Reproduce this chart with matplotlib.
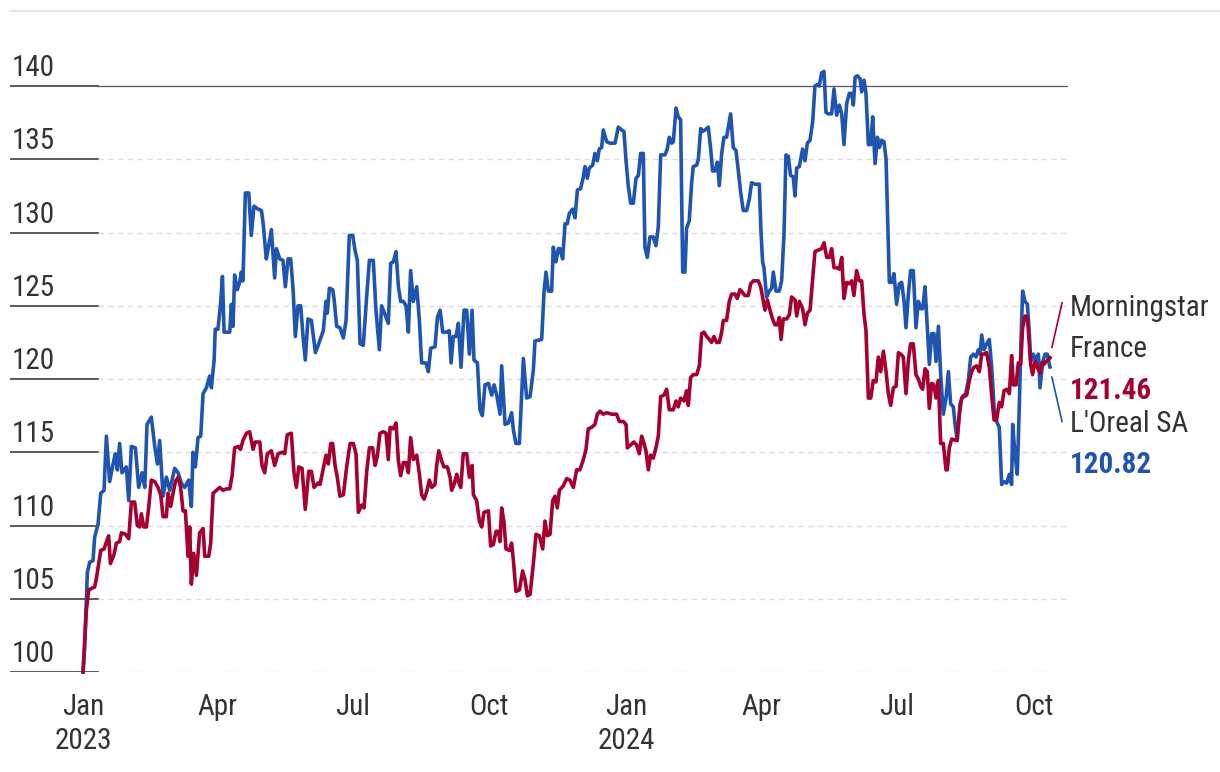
import pandas as pd
import matplotlib
matplotlib.use("Agg")
import matplotlib.pyplot as plt
import matplotlib.transforms as mtransforms
from matplotlib.lines import Line2D

plt.rcParams['font.family'] = ['Roboto Condensed', 'Roboto', 'DejaVu Sans']

# days counted from 1 Jan 2023
start = pd.Timestamp("2023-01-01")

oreal_days = [0, 1.1, 2.9, 4.5, 6.7, 7.8, 10.1, 11.9, 14.1, 15.7, 17.9, 20.2, 21.7, 23.1, 24.6, 26.2,
              29.1, 30.7, 32.5, 35.2, 37.4, 39.7, 41.5, 43.0, 45.9, 48.2, 50.0, 51.5, 53.8, 56.0, 58.3,
              61.6, 63.9, 66.1, 68.3, 71.0, 72.8, 73.9, 75.5, 77.3, 79.1, 80.7, 82.9, 85.1, 86.3, 88.1,
              88.9, 90.7, 92.5, 93.7, 94.8, 98.6, 99.7, 100.8, 101.9, 103.7, 105.3, 106.4, 107.5, 109.1,
              111.4, 113.1, 114.9, 117.6, 119.9, 121.0, 123.2, 124.8, 126.6, 128.8, 130.0, 132.2, 134.4,
              136.0, 137.8, 139.6, 141.2, 142.7, 144.5, 146.3, 147.9, 149.4, 151.2, 153.5, 156.2, 158.4,
              161.5, 163.3, 164.2, 165.6, 167.8, 168.7, 170.5, 172.7, 175.0, 176.8, 179.0, 181.3, 182.8,
              184.4, 186.2, 188.4, 190.7, 192.5, 195.1, 196.9, 199.2, 200.7, 203.0, 205.2, 206.8, 208.6,
              210.4, 212.0, 213.5, 215.3, 217.1, 218.7, 220.2, 222.0, 224.3, 226.1, 227.6, 230.5, 232.1,
              233.7, 236.6, 238.2, 240.0, 241.8, 244.4, 246.2, 247.4, 248.9, 250.7, 252.3, 254.1, 256.1,
              257.9, 259.7, 261.5, 262.8, 265.1, 266.8, 268.4, 270.2, 272.5, 274.7, 276.3, 278.1, 280.3,
              281.4, 283.7, 285.9, 288.1, 289.3, 291.0, 293.3, 296.0, 298.2, 300.5, 302.7, 303.8, 308.3,
              309.9, 311.2, 312.8, 315.0, 316.1, 317.9, 319.5, 320.6, 322.4, 324.0, 325.5, 326.9, 329.1,
              330.7, 332.3, 334.5, 336.3, 337.4, 339.0, 340.3, 342.6, 344.1, 345.7, 347.0, 348.6, 349.7,
              352.0, 354.2, 357.6, 359.8, 362.1, 363.6, 365.0, 366.5, 368.1, 369.9, 371.7, 373.3, 374.8,
              376.6, 377.7, 379.3, 381.1, 383.3, 385.1, 386.7, 388.3, 391.2, 392.7, 394.1, 395.7, 396.8,
              398.6, 400.1, 401.7, 403.1, 404.6, 405.7, 407.5, 409.1, 410.2, 412.5, 413.6, 415.2, 416.5,
              418.1, 420.3, 421.9, 423.2, 424.8, 426.4, 427.7, 429.3, 430.8, 432.6, 433.8, 435.3, 437.1,
              438.9, 440.5, 442.0, 443.8, 446.1, 447.9, 449.4, 451.7, 454.6, 455.7, 456.8, 457.7, 459.5,
              461.3, 462.9, 464.0, 465.8, 468.0, 469.6, 471.2, 472.5, 474.1, 475.6, 477.4, 478.6, 479.7,
              481.5, 483.7, 485.3, 486.9, 488.7, 490.5, 492.0, 493.6, 494.9, 496.5, 498.1, 499.4, 501.0,
              503.2, 504.8, 506.6, 508.4, 510.0, 511.5, 513.3, 515.1, 516.7, 517.8, 519.0, 520.5, 522.3,
              523.4, 525.0, 526.3, 527.9, 529.5, 530.8, 532.4, 534.0, 535.3, 536.8, 538.4, 539.8, 542.0,
              543.6, 545.1, 546.9, 548.7, 550.3, 551.9, 553.2, 554.8, 556.3, 558.1, 559.9, 561.5, 563.1,
              564.4, 566.0, 567.5, 568.9, 570.5, 572.0, 573.4, 575.0, 576.5, 578.3, 580.1, 581.7, 583.2,
              585.0, 586.4, 587.7, 589.5, 591.3, 592.9, 595.1, 596.7, 598.5, 600.3, 601.8, 602.9, 604.1,
              605.6, 607.4, 609.2, 610.8, 612.4, 614.1, 615.9, 617.5, 619.1, 620.9, 622.7, 624.2, 624.9,
              626.5, 628.0, 629.4, 630.5, 631.6, 633.2, 634.8, 636.1, 637.0, 638.8, 640.6, 642.2, 643.3,
              645.1, 646.7, 648.2, 649.1, 650.0]
oreal_vals = [100, 101.7, 106.8, 107.5, 107.6, 109.2, 110.1, 112.2, 112.4, 116.1, 113.0, 114.2, 114.9, 113.8,
              115.6, 113.6, 114.0, 111.7, 115.4, 115.3, 112.6, 113.6, 112.6, 116.9, 117.4, 115.4, 114.2,
              115.8, 112.0, 113.3, 112.4, 113.9, 113.6, 112.9, 112.6, 113.1, 111.3, 115.0, 114.0, 116.0,
              116.1, 119.0, 119.4, 120.2, 119.4, 121.3, 123.4, 123.4, 125.2, 127.0, 123.2, 123.2, 125.1,
              123.6, 127.1, 126.1, 126.6, 127.3, 126.7, 132.7, 132.7, 129.8, 131.8, 131.6, 131.5, 130.7,
              128.2, 129.1, 130.2, 126.9, 128.9, 128.2, 128.1, 126.3, 128.2, 128.2, 126.1, 122.9, 125.0,
              125.0, 122.9, 121.3, 124.1, 124.0, 121.8, 122.4, 123.3, 125.3, 124.5, 126.2, 126.1, 125.5,
              123.6, 123.5, 122.8, 124.0, 129.8, 129.8, 128.8, 128.1, 122.4, 122.3, 125.7, 128.1, 128.1,
              124.7, 122.0, 125.0, 124.4, 123.8, 127.9, 128.0, 128.7, 126.3, 125.3, 125.3, 125.0, 123.2,
              127.4, 125.3, 126.3, 124.0, 121.1, 121.1, 120.5, 122.1, 122.2, 124.2, 124.7, 123.2, 123.2,
              123.3, 121.1, 122.9, 122.9, 123.8, 120.8, 124.7, 124.7, 121.7, 124.7, 121.3, 121.1, 117.9,
              117.5, 119.6, 119.7, 118.9, 119.6, 118.9, 117.6, 120.9, 116.9, 117.0, 117.7, 116.5, 115.6,
              115.6, 121.4, 118.7, 118.8, 120.6, 122.6, 122.7, 126.0, 127.3, 126.0, 126.0, 129.0, 128.0,
              128.9, 128.9, 128.2, 130.6, 130.6, 131.3, 131.6, 131.0, 132.9, 133.0, 133.8, 134.5, 133.7,
              134.4, 134.6, 135.4, 134.9, 135.7, 135.8, 137.0, 136.2, 136.1, 136.1, 137.2, 137.0, 136.9,
              134.9, 133.2, 132.0, 132.0, 133.7, 133.9, 135.4, 135.4, 129.0, 128.3, 129.7, 129.7, 129.1,
              130.4, 135.3, 135.3, 135.7, 136.5, 136.1, 136.2, 138.5, 137.9, 137.7, 127.3, 127.3, 130.3,
              130.8, 133.4, 134.5, 134.6, 135.0, 137.1, 136.9, 137.0, 137.2, 135.7, 134.2, 134.2, 134.8,
              133.2, 135.4, 136.5, 136.5, 137.2, 138.1, 135.8, 135.6, 134.2, 132.8, 131.5, 131.5, 132.3,
              133.4, 133.3, 133.3, 130.1, 128.0, 127.6, 125.6, 126.0, 126.2, 127.3, 126.0, 126.0, 126.7,
              129.9, 135.3, 135.2, 133.9, 133.8, 132.5, 134.4, 134.5, 135.7, 134.9, 136.1, 136.3, 137.6,
              140.0, 140.1, 140.0, 140.9, 141.0, 138.2, 138.1, 138.1, 139.8, 138.0, 138.7, 138.1, 136.0,
              138.8, 139.5, 139.5, 138.7, 140.6, 140.7, 140.5, 139.6, 140.4, 139.5, 136.0, 136.0, 137.9,
              134.7, 136.5, 135.8, 136.3, 136.2, 135.0, 126.6, 126.6, 127.2, 125.1, 126.5, 126.6, 125.3,
              123.5, 125.8, 127.4, 127.4, 123.5, 125.3, 124.8, 124.8, 126.3, 123.5, 121.0, 123.1, 123.1,
              121.2, 123.6, 120.3, 117.6, 118.7, 120.5, 118.3, 118.1, 116.7, 115.8, 118.3, 118.8, 118.8,
              119.9, 121.5, 121.7, 121.5, 122.0, 121.7, 123.0, 122.0, 122.4, 122.7, 120.8, 118.1, 117.1,
              116.7, 112.8, 113.0, 112.9, 113.5, 112.8, 116.9, 114.8, 113.5, 118.3, 122.6, 126.0, 125.3,
              125.1, 123.1, 121.2, 121.7, 121.2, 121.7, 119.4, 121.2, 121.7, 121.7, 121.2, 120.82]

msfr_days = [0, 1.1, 2.2, 3.8, 5.6, 7.8, 9.0, 11.9, 14.1, 17.2, 18.4, 20.8, 22.4, 24.6, 25.8, 28.5, 30.7,
             32.5, 34.7, 36.5, 38.1, 39.2, 40.8, 42.6, 44.1, 45.9, 48.2, 50.4, 52.2, 53.8, 56.0, 57.1,
             58.9, 60.5, 62.1, 63.9, 65.6, 67.2, 68.8, 70.6, 71.7, 72.8, 74.4, 76.2, 78.4, 80.7, 81.8,
             84.5, 85.8, 87.4, 89.6, 91.9, 94.1, 96.3, 98.6, 100.2, 101.9, 104.2, 105.8, 107.5, 109.8,
             112.0, 114.3, 115.8, 118.8, 120.3, 122.1, 123.9, 126.6, 128.8, 131.1, 133.8, 135.6, 137.3,
             140.0, 141.8, 143.4, 145.0, 147.2, 149.4, 151.7, 153.5, 155.3, 158.0, 159.3, 161.5, 163.3,
             164.9, 166.5, 167.8, 169.4, 170.9, 172.7, 175.0, 177.2, 179.5, 181.7, 183.5, 185.1, 187.3,
             188.9, 190.7, 192.5, 194.7, 196.3, 197.8, 199.6, 201.9, 203.7, 205.2, 206.4, 208.6, 210.4,
             212.0, 213.5, 215.3, 217.1, 218.7, 220.2, 222.0, 224.3, 226.1, 227.6, 229.2, 231.0, 232.8,
             234.4, 236.6, 237.7, 239.1, 241.1, 242.6, 244.9, 246.7, 247.8, 249.4, 251.2, 252.3, 253.9,
             255.6, 257.9, 259.7, 261.5, 262.4, 264.6, 266.4, 268.0, 269.5, 272.5, 274.0, 275.8, 277.6,
             279.2, 280.3, 281.4, 283.0, 284.3, 286.6, 288.1, 289.3, 291.0, 293.3, 295.5, 297.1, 298.7,
             300.5, 302.7, 304.5, 306.7, 309.0, 310.5, 312.1, 313.9, 315.7, 317.3, 318.8, 320.2, 322.8,
             325.1, 327.3, 329.6, 331.8, 334.0, 336.3, 338.1, 339.6, 341.9, 344.1, 345.7, 347.5, 349.7,
             352.0, 355.3, 358.7, 360.5, 363.2, 365.0, 365.9, 368.1, 370.3, 372.1, 373.9, 375.5, 377.1,
             378.4, 380.0, 381.5, 383.3, 385.1, 386.7, 388.3, 390.5, 392.3, 394.1, 396.8, 398.6, 400.1,
             401.7, 404.0, 405.7, 406.9, 408.4, 410.2, 412.5, 414.3, 415.8, 417.4, 419.2, 421.0, 422.5,
             424.1, 425.9, 427.7, 429.3, 430.4, 432.6, 434.4, 436.0, 438.2, 439.8, 441.6, 443.4, 444.9,
             447.2, 448.8, 450.6, 453.9, 455.5, 456.8, 458.4, 460.0, 461.8, 463.5, 465.1, 466.7, 468.0,
             469.2, 470.7, 473.0, 474.8, 476.3, 478.6, 479.7, 481.5, 483.7, 485.3, 486.9, 488.7, 490.5,
             492.0, 494.3, 496.5, 498.1, 499.9, 501.7, 503.2, 504.8, 506.6, 508.4, 510.0, 511.5, 513.3,
             515.1, 516.7, 518.2, 520.0, 521.8, 523.4, 525.0, 526.3, 527.9, 529.5, 531.2, 533.0, 534.6,
             536.2, 538.0, 539.8, 541.3, 542.9, 544.7, 546.5, 548.1, 549.6, 551.4, 553.2, 554.8, 556.3,
             558.1, 559.9, 561.5, 563.1, 564.4, 566.0, 567.5, 568.9, 570.5, 572.0, 573.4, 575.0, 576.5,
             578.3, 580.1, 581.0, 582.3, 583.9, 587.3, 589.1, 590.6, 592.2, 594.0, 595.8, 597.3, 598.9,
             600.7, 602.5, 604.1, 605.6, 607.4, 609.2, 610.8, 612.4, 614.1, 615.9, 617.5, 619.1, 620.9,
             622.7, 624.2, 625.4, 627.2, 628.7, 630.3, 631.6, 633.2, 634.8, 636.1, 637.0, 638.3, 639.9,
             641.5, 643.3, 644.4, 646.0, 647.3, 648.9, 650.0]
msfr_vals = [100, 102.1, 104.2, 105.6, 105.7, 105.8, 106.4, 108.3, 108.4, 109.3, 107.4, 108.0, 108.8, 108.9,
             109.5, 109.4, 109.1, 111.6, 111.6, 110.0, 109.9, 110.8, 109.9, 109.9, 111.2, 113.1, 113.0,
             112.6, 112.1, 110.6, 110.6, 112.2, 111.3, 112.2, 113.0, 113.3, 112.6, 111.0, 111.0, 107.9,
             109.9, 106.0, 108.1, 106.6, 109.5, 109.8, 107.9, 107.9, 108.8, 112.2, 112.4, 112.6, 112.4,
             112.5, 112.5, 113.4, 115.3, 115.4, 115.2, 115.8, 116.3, 116.4, 115.2, 115.7, 115.7, 114.1,
             113.6, 114.9, 115.1, 114.1, 114.9, 115.0, 114.9, 116.2, 116.3, 113.6, 112.6, 114.0, 113.9,
             111.1, 113.7, 113.7, 112.6, 112.9, 112.8, 113.9, 114.8, 114.2, 115.6, 115.6, 114.1, 113.3,
             112.0, 112.1, 114.0, 115.6, 115.6, 114.9, 110.9, 111.4, 111.2, 113.7, 115.3, 115.3, 114.1,
             114.7, 116.3, 116.4, 116.3, 114.5, 116.7, 116.6, 117.0, 114.4, 113.4, 114.3, 114.3, 113.6,
             116.0, 114.5, 114.8, 113.5, 112.1, 111.8, 112.3, 113.1, 112.6, 112.8, 114.1, 115.1, 114.4,
             114.0, 114.0, 113.3, 112.4, 112.8, 113.5, 113.0, 112.6, 114.9, 114.9, 113.3, 114.1, 112.1,
             111.7, 110.3, 109.9, 110.9, 111.0, 108.6, 108.7, 109.6, 109.6, 108.9, 111.2, 110.2, 108.4,
             108.3, 108.8, 107.6, 105.5, 105.6, 106.9, 106.3, 105.2, 105.3, 107.4, 109.4, 109.3, 108.4,
             110.3, 109.3, 109.4, 111.7, 112.0, 111.2, 112.4, 112.7, 113.2, 113.1, 112.6, 113.8, 113.8,
             114.5, 115.2, 116.6, 116.7, 116.9, 117.6, 117.8, 117.6, 117.7, 117.6, 117.6, 117.1, 117.1,
             116.9, 115.3, 115.5, 115.7, 115.5, 114.9, 116.1, 115.6, 115.1, 113.8, 114.8, 114.6, 115.3,
             116.1, 118.8, 118.9, 119.3, 117.9, 117.9, 118.5, 118.1, 118.7, 118.5, 119.2, 118.2, 120.1,
             120.3, 120.3, 120.9, 123.1, 123.2, 122.9, 122.7, 122.5, 122.9, 122.5, 122.5, 123.2, 124.0,
             124.0, 125.3, 125.8, 125.8, 125.5, 126.1, 125.9, 125.7, 125.7, 126.5, 126.7, 126.7, 126.3,
             125.6, 124.7, 125.4, 124.7, 124.1, 123.7, 123.7, 124.2, 122.7, 124.1, 124.1, 124.4, 125.6,
             125.4, 124.3, 125.3, 124.8, 123.7, 124.5, 124.7, 126.9, 128.7, 128.8, 128.9, 129.3, 128.3,
             128.3, 128.9, 127.6, 127.6, 127.5, 128.3, 125.5, 126.6, 126.5, 126.7, 125.7, 127.4, 126.7,
             126.7, 124.4, 123.3, 118.7, 118.7, 119.9, 119.8, 121.5, 120.5, 121.9, 120.5, 119.0, 118.2,
             119.4, 119.5, 121.8, 121.7, 121.5, 119.0, 121.3, 122.4, 122.4, 120.3, 120.0, 119.5, 119.3,
             120.7, 120.5, 118.0, 119.7, 119.6, 118.7, 119.9, 115.6, 115.6, 113.8, 113.8, 115.3, 115.9,
             115.8, 117.6, 118.7, 118.9, 118.9, 119.9, 120.5, 120.8, 120.9, 120.5, 121.7, 121.7, 121.8,
             120.8, 118.9, 117.2, 117.2, 118.4, 118.1, 119.2, 119.3, 119.0, 121.6, 119.6, 119.6, 121.1,
             121.0, 123.5, 124.3, 124.2, 122.4, 121.0, 120.3, 121.2, 120.8, 120.4, 121.1, 121.0, 121.2,
             121.3, 121.46]

y_ticks = [100, 105, 110, 115, 120, 125, 130, 135, 140]
x_ticks = ["2023-01-01", "2023-04-01", "2023-07-01", "2023-10-01",
           "2024-01-01", "2024-04-01", "2024-07-01", "2024-10-01"]
x_labels = ["Jan\n2023", "Apr", "Jul", "Oct", "Jan\n2024", "Apr", "Jul", "Oct"]

blue = "#1F55B1"
red = "#A5002F"
ink = "#333333"
W, H = 1220, 772

fig = plt.figure(figsize=(W / 100, H / 100), dpi=100)
ax = fig.add_axes([10 / W, 100 / H, 1058 / W, 662 / H])

oreal_dates = start + pd.to_timedelta(oreal_days, unit="D")
msfr_dates = start + pd.to_timedelta(msfr_days, unit="D")
ax.plot(oreal_dates, oreal_vals, color=blue, lw=2.6, clip_on=False, zorder=3)
ax.plot(msfr_dates, msfr_vals, color=red, lw=2.6, clip_on=False, zorder=4)

ax.set_xlim(start - pd.Timedelta(days=49.1), start + pd.Timedelta(days=662.1))
ax.set_ylim(100, 145.19)
for s in ax.spines.values():
    s.set_visible(False)

# gridlines: solid stub under each label, dashed across the plot
frac = 88 / 1058
lift = mtransforms.ScaledTranslation(0, 0.1, fig.dpi_scale_trans)
for v in y_ticks:
    ax.axhline(v, xmin=0, xmax=frac, color="#5a5a5a", lw=1.4, zorder=1)
    if v == 140:
        ax.axhline(v, xmin=frac, xmax=1, color="#555555", lw=0.9, zorder=1)
    else:
        ax.axhline(v, xmin=frac, xmax=1, color="#dddddd", lw=1.0, dashes=(4, 3), zorder=1)
    ax.text(0.0015, v, str(v), transform=ax.get_yaxis_transform() + lift,
            fontsize=21, color=ink, va="baseline", ha="left")
ax.set_yticks([])

ax.set_xticks(pd.to_datetime(x_ticks))
ax.set_xticklabels(x_labels, fontsize=21, color=ink, linespacing=1.3)
ax.tick_params(axis="x", length=0, pad=15)

fig.add_artist(Line2D([10 / W, 1], [1 - 10.5 / H] * 2, color="#e5e5e5", lw=1.5,
                      transform=fig.transFigure))

# end labels
end = start + pd.Timedelta(days=650)
x0 = end + pd.Timedelta(days=1.3)
x1 = start + pd.Timedelta(days=658.1)
ax.plot([x0, x1], [msfr_vals[-1] + 0.7, 125.2], color=red, lw=1.2, clip_on=False)
ax.plot([x0, x1], [oreal_vals[-1] - 0.7, 117.1], color=blue, lw=1.2, clip_on=False)

tx = 1070 / W
fig.text(tx, 1 - 316 / H, "Morningstar", fontsize=21, color=ink, va="baseline")
fig.text(tx, 1 - 357 / H, "France", fontsize=21, color=ink, va="baseline")
fig.text(tx, 1 - 399 / H, f"{msfr_vals[-1]:.2f}", fontsize=21, color=red,
         fontweight="bold", va="baseline")
fig.text(tx, 1 - 432 / H, "L'Oreal SA", fontsize=21, color=ink, va="baseline")
fig.text(tx, 1 - 473 / H, f"{oreal_vals[-1]:.2f}", fontsize=21, color=blue,
         fontweight="bold", va="baseline")

fig.savefig("out.png", dpi=100)
